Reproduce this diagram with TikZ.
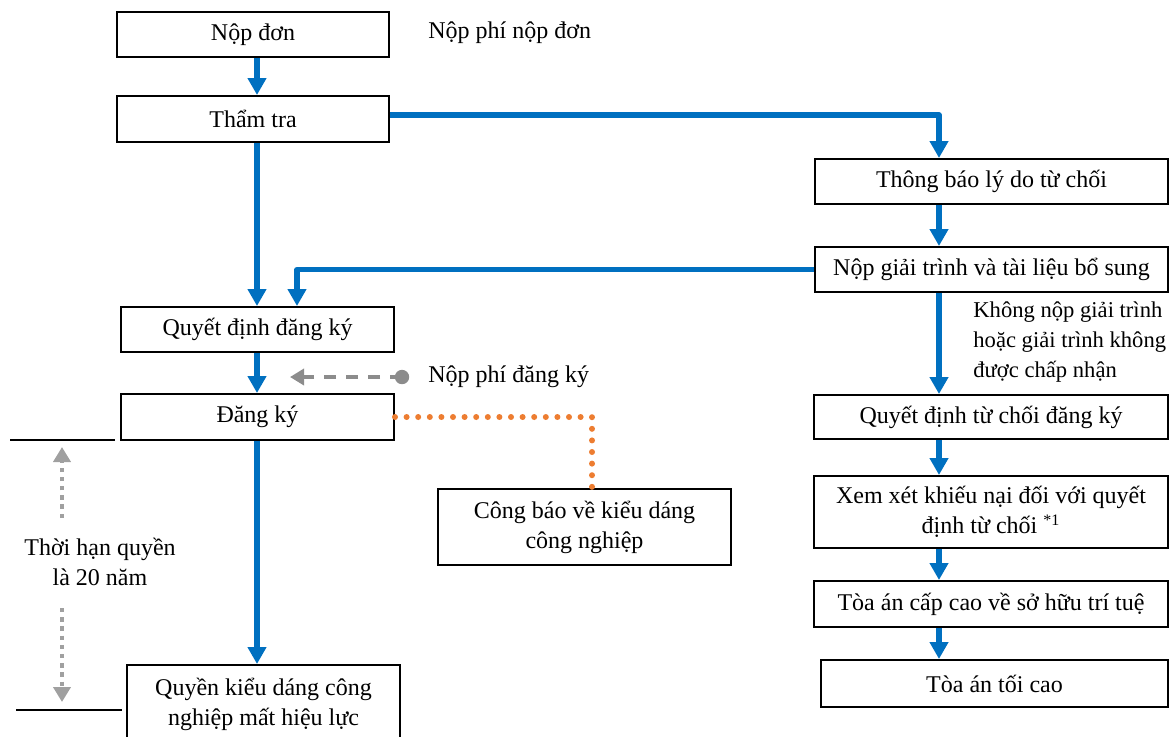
\documentclass[tikz,border=0pt]{standalone}
\usepackage{fontspec}
\setmainfont{Liberation Serif}
\usetikzlibrary{arrows.meta}

\definecolor{flowblue}{RGB}{0,112,192}
\definecolor{puborange}{RGB}{237,125,49}
\definecolor{feegray}{RGB}{140,140,140}
\definecolor{termgray}{RGB}{160,160,160}

\begin{document}
\begin{tikzpicture}[x=0.5pt, y=-0.5pt, font=\fontsize{12}{15}\selectfont,
    box/.style={draw, line width=1pt, minimum height=22.5pt, align=center, inner sep=2pt},
    note/.style={inner sep=0pt, align=left},
    flow/.style={draw=flowblue, line width=2.6pt, line join=round, -{Triangle[length=8.5pt, width=9pt]}},
    feeline/.style={draw=feegray, line width=2pt, dash pattern=on 6pt off 5pt, -{Triangle[length=7pt, width=8pt]}},
    publine/.style={draw=puborange, line width=3pt, line cap=round, dash pattern=on 0pt off 5.8pt},
    termline/.style={draw=termgray, line width=2.2pt, dash pattern=on 2.2pt off 2.4pt, -{Triangle[length=7.5pt, width=8.5pt]}}]
        % fixed page frame, in pixel units
        \useasboundingbox (0,0) rectangle (1170,736);

        % columns that the arrows run along
        \coordinate (colL) at (257,0);
        \coordinate (colM) at (297,0);
        \coordinate (colR) at (939,0);
        \coordinate (colG) at (592,0);

        % left column: application to registration
        \node[box, minimum width=136pt] (apply) at (253,34.5) {Nộp đơn};
        \node[note, anchor=west] (appfee) at (428,33) {Nộp phí nộp đơn};
        \node[box, minimum width=136pt, minimum height=23pt] (exam) at (253,119) {Thẩm tra};
        \node[box, minimum width=136.5pt] (regdec) at (257.5,329.5) {Quyết định đăng ký};
        \node[box, minimum width=136.5pt, minimum height=23pt] (reg) at (257.5,417) {Đăng ký};
        \node[box, minimum width=136.5pt, minimum height=39pt] (lapse) at (263.5,704) {Quyền kiểu dáng công\\nghiệp mất hiệu lực};
        \node[box, minimum width=146.5pt, minimum height=38pt] (gazette) at (584.5,527) {Công báo về kiểu dáng\\công nghiệp};

        % right column: refusal path
        \node[box, minimum width=176.5pt] (notice) at (991.5,181.5) {Thông báo lý do từ chối};
        \node[box, minimum width=176.5pt] (reply) at (991.5,269.5) {Nộp giải trình và tài liệu bổ sung};
        \node[box, minimum width=177pt, minimum height=22pt] (refusal) at (991,417) {Quyết định từ chối đăng ký};
        \node[box, minimum width=177pt, minimum height=36pt] (appeal) at (991,512) {Xem xét khiếu nại đối với quyết\\định từ chối \textsuperscript{*1}};
        \node[box, minimum width=177pt, minimum height=23pt] (ipcourt) at (991,604) {Tòa án cấp cao về sở hữu trí tuệ};
        \node[box, minimum width=173.5pt, minimum height=23.5pt] (supreme) at (994.5,683.5) {Tòa án tối cao};
        \node[note, anchor=west, font=\fontsize{11.3}{15}\selectfont] (nogood) at (973,342) {Không nộp giải trình\\hoặc giải trình không\\được chấp nhận};

        % main flow arrows
        \draw[flow] (apply.south -| colL) -- (exam.north -| colL);
        \draw[flow] (exam.south -| colL) -- (regdec.north -| colL);
        \draw[flow] (regdec.south -| colL) -- (reg.north -| colL);
        \draw[flow] (reg.south -| colL) -- (lapse.north -| colL);
        \draw[flow] ([yshift=2pt]exam.east) -| (notice.north -| colR);
        \draw[flow] (notice.south -| colR) -- (reply.north -| colR);
        \draw[flow] (reply.west) -| (regdec.north -| colM);
        \draw[flow] (reply.south -| colR) -- (refusal.north -| colR);
        \draw[flow] (refusal.south -| colR) -- (appeal.north -| colR);
        \draw[flow] (appeal.south -| colR) -- (ipcourt.north -| colR);
        \draw[flow] (ipcourt.south -| colR) -- (supreme.north -| colR);

        % registration fee
        \node[note, anchor=west] (regfee) at (428,377) {Nộp phí đăng ký};
        \coordinate (feedot) at (402,377);
        \coordinate (feetip) at (290,377);
        \draw[feeline] (feedot) -- (feetip);
        \fill[feegray] (feedot) circle[radius=3.6pt];

        % publication in the gazette
        \draw[publine] (reg.east) -| (gazette.north -| colG);

        % term of the right
        \node[align=center, inner sep=0pt] (term) at (100,562) {Thời hạn quyền\\là 20 năm};
        \coordinate (termtop) at (62,447);
        \coordinate (termup) at (62,518);
        \coordinate (termdown) at (62,608);
        \coordinate (termbot) at (62,702);
        \draw[line width=1pt] (10,440) coordinate (ruleA) -- (115,440);
        \draw[line width=1pt] (16,710) coordinate (ruleB) -- (122,710);
        \draw[termline] (termup) -- (termtop);
        \draw[termline] (termdown) -- (termbot);
\end{tikzpicture}
\end{document}
